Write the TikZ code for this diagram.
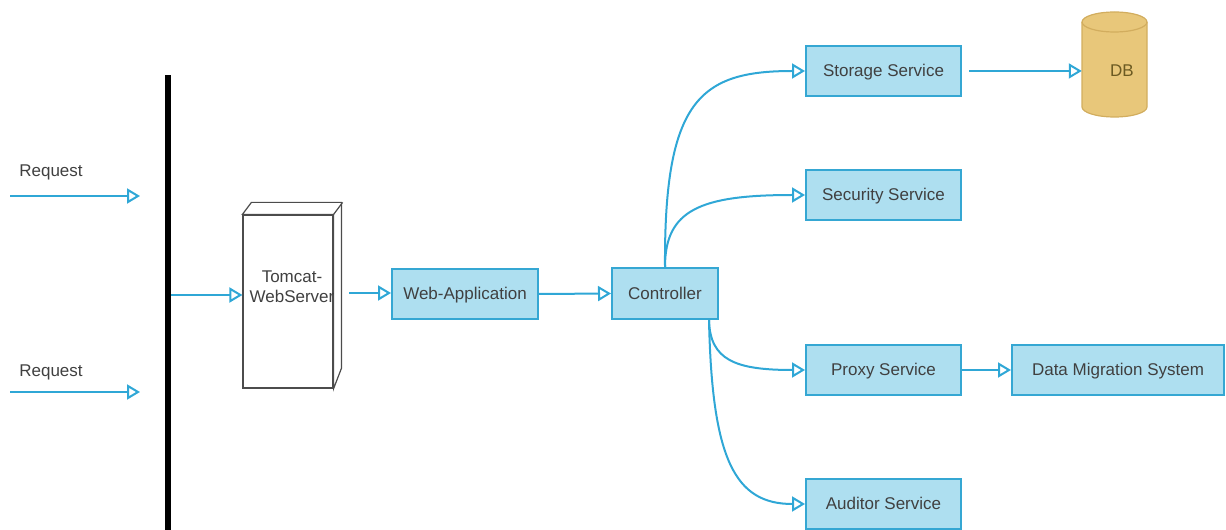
\documentclass[tikz,border=0pt]{standalone}
\usepackage{fontspec}
\setmainfont{Liberation Sans}
\usetikzlibrary{arrows.meta}
\definecolor{boxfill}{HTML}{AEDFF0}
\definecolor{boxline}{HTML}{35A7D3}
\definecolor{arrline}{HTML}{2FA7D6}
\definecolor{txt}{HTML}{404040}
\definecolor{dbfill}{HTML}{E8C77A}
\definecolor{dbline}{HTML}{D2AD5E}
\definecolor{dbtxt}{HTML}{6B5A22}
\tikzset{
  svc/.style={draw=boxline, fill=boxfill, line width=2pt, text=txt, inner sep=0pt,
    text height=12pt, text depth=0pt,
    minimum width=155pt, minimum height=50pt, font=\fontsize{17}{20}\selectfont},
  lbl/.style={text=txt, font=\fontsize{17}{20}\selectfont, inner sep=0pt},
  arr/.style={draw=arrline, line width=2pt, -{Triangle[open, length=13pt, width=15pt, line width=2pt]}},
}
\begin{document}
\begin{tikzpicture}[x=1pt, y=1pt]
\useasboundingbox (0,0) rectangle (1226,530);
% bar
\node[fill=black, inner sep=0pt, minimum width=6pt, minimum height=455pt] (bar) at (168,227.5) {};
% requests
\node[lbl] (req1) at (51,358) {Request};
\node[lbl] (req2) at (51,158) {Request};
\coordinate (r1s) at (10,334);
\coordinate (r1e) at (140,334);
\coordinate (r2s) at (10,138);
\coordinate (r2e) at (140,138);
\draw[arr] (r1s) -- (r1e);
\draw[arr] (r2s) -- (r2e);
% tomcat 3D box
\node[draw=black!70, line width=1.2pt, fill=white, minimum width=90pt, minimum height=173pt, inner sep=0pt] (tomcat) at (288,228.5) {};
\draw[black!70, line width=1.2pt, fill=white] (tomcat.north west) -- ++(9,12) -- ++(90,0) -- ++(0,-166) -- ([yshift=0pt]tomcat.south east) -- (tomcat.north east) -- cycle;
\draw[black!70, line width=1.2pt] (tomcat.north east) -- ++(9,12);
\node[lbl, align=center] (tomcatlbl) at (292,243) {Tomcat-\\WebServer};
\coordinate (barpt) at (171,235);
\draw[arr] (barpt) -- (barpt -| tomcat.west);
% main chain
\node[svc, minimum width=146pt] (webapp) at (465,236) {Web-Application};
\node[svc, minimum width=106pt, minimum height=51pt] (ctrl) at (665,236.5) {Controller};
\coordinate (tcout) at (349,237);
\draw[arr] (tcout) -- (tcout -| webapp.west);
\draw[arr] (webapp.east) -- (ctrl.west);
% services
\node[svc] (storage) at (883.5,459) {Storage Service};
\node[svc] (security) at (883.5,335) {Security Service};
\node[svc] (proxy) at (883.5,160) {Proxy Service};
\node[svc] (auditor) at (883.5,26) {Auditor Service};
\node[svc, minimum width=212pt] (dms) at (1118,160) {Data Migration System};
% DB
\node[inner sep=0pt, minimum width=65pt, minimum height=105pt] (db) at (1114.5,465.5) {};
\draw[draw=dbline, fill=dbfill, line width=1.2pt]
  (1082,508) -- (1082,423) arc[start angle=180, end angle=360, x radius=32.5, y radius=10]
  -- (1147,508) arc[start angle=0, end angle=180, x radius=32.5, y radius=10] -- cycle;
\draw[draw=dbline, line width=1.2pt] (1082,508) arc[start angle=180, end angle=360, x radius=32.5, y radius=10];
\node[text=dbtxt, font=\fontsize{17}{20}\selectfont, text height=12pt, text depth=0pt] at (1122,459) {DB};
% connectors
\draw[arr] (ctrl.north) .. controls (664,430) and (700,459) .. (storage.west);
\draw[arr] (ctrl.north) .. controls (665,320) and (700,335) .. (security.west);
\draw[arr] ([xshift=-10pt]ctrl.south east) .. controls (710,170) and (735,160) .. (proxy.west);
\draw[arr] ([xshift=-10pt]ctrl.south east) .. controls (712,70) and (735,26) .. (auditor.west);
\draw[arr] ([xshift=7pt]storage.east) -- (storage.east -| db.west);
\draw[arr] (proxy.east) -- (dms.west);
\end{tikzpicture}
\end{document}
